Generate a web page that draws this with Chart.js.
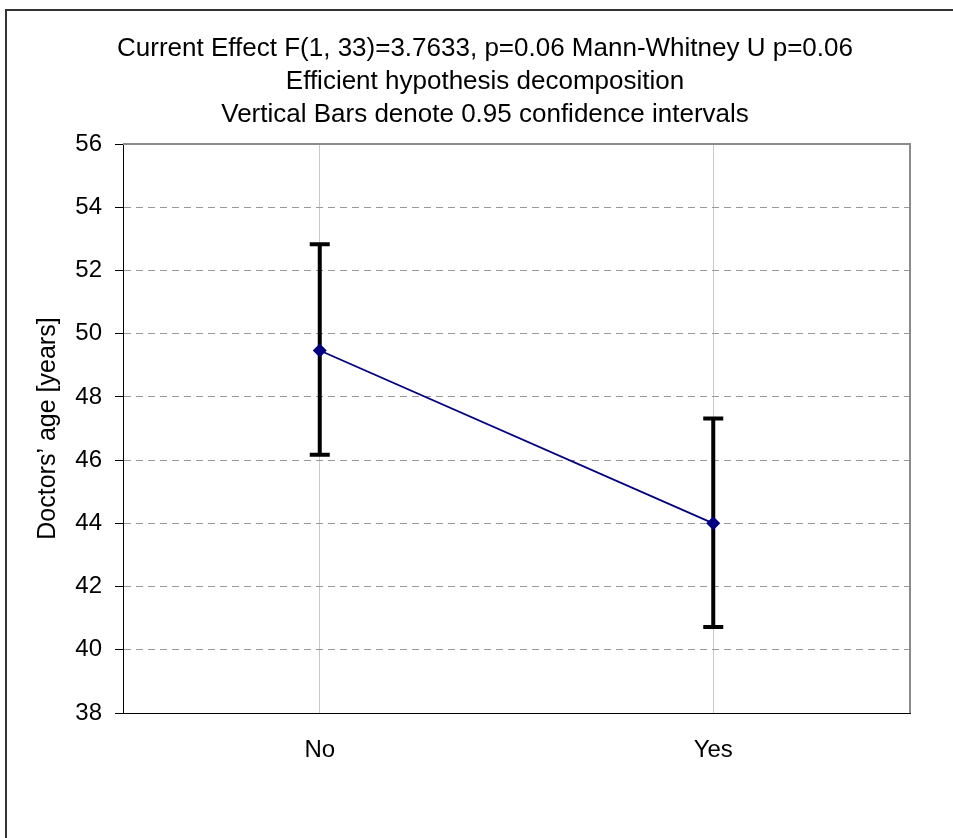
<!DOCTYPE html>
<html>
<head>
<meta charset="utf-8">
<script src="https://cdn.jsdelivr.net/npm/chart.js@4/dist/chart.umd.min.js"></script>
<style>
  html, body { margin: 0; padding: 0; background: #fff; }
  body { width: 953px; height: 838px; position: relative; overflow: hidden; }
  #frame { position: absolute; left: 5px; top: 9px; width: 1000px; height: 900px;
           border-left: 2px solid #333; border-top: 2px solid #333; }
  #c { position: absolute; left: 0; top: 0; }
</style>
</head>
<body>
<div id="frame"></div>
<canvas id="c" width="953" height="838"></canvas>
<script>
// ---- data ----
const categories = ['No', 'Yes'];
const means = [49.47, 44.0];
const ciLower = [46.17, 40.72];
const ciUpper = [52.83, 47.32];
const titleLines = [
  'Current Effect F(1, 33)=3.7633, p=0.06 Mann-Whitney U p=0.06',
  'Efficient hypothesis decomposition',
  'Vertical Bars denote 0.95 confidence intervals'
];
const yAxisTitle = 'Doctors\u2019 age [years]';
const yMin = 38, yMax = 56, yStep = 2;

const FONT = "'Liberation Sans', Arial, sans-serif";

const errorBars = {
  id: 'errorBars',
  beforeDatasetsDraw(chart) {
    const {ctx, chartArea: a, scales: {x, y}} = chart;
    // plot frame top & right (gray)
    ctx.save();
    ctx.strokeStyle = '#8c8c8c';
    ctx.lineWidth = 2;
    ctx.beginPath();
    ctx.moveTo(a.left, a.top);
    ctx.lineTo(a.right, a.top);
    ctx.lineTo(a.right, a.bottom);
    ctx.stroke();
    // error bars
    ctx.strokeStyle = '#000';
    ctx.lineWidth = 4;
    ctx.lineCap = 'butt';
    for (let i = 0; i < categories.length; i++) {
      const px = x.getPixelForValue(i);
      const yl = y.getPixelForValue(ciLower[i]);
      const yu = y.getPixelForValue(ciUpper[i]);
      ctx.beginPath();
      ctx.moveTo(px, yl); ctx.lineTo(px, yu);
      ctx.moveTo(px - 10, yl); ctx.lineTo(px + 10, yl);
      ctx.moveTo(px - 10, yu); ctx.lineTo(px + 10, yu);
      ctx.stroke();
    }
    ctx.restore();
  }
};

new Chart(document.getElementById('c'), {
  type: 'line',
  data: {
    labels: categories,
    datasets: [{
      data: means,
      borderColor: '#000080',
      backgroundColor: '#000080',
      borderWidth: 1.8,
      pointStyle: 'rectRot',
      pointRadius: 7,
      pointBorderWidth: 0,
      tension: 0
    }]
  },
  options: {
    responsive: false,
    animation: false,
    layout: { padding: { left: 60, right: 43, top: 0, bottom: 0 } },
    plugins: {
      legend: { display: false },
      tooltip: { enabled: false },
      title: {
        display: true,
        text: titleLines,
        color: '#000',
        font: { family: FONT, size: 26, weight: 'normal', lineHeight: 1.27 },
        padding: { top: 32, bottom: 13 }
      }
    },
    scales: {
      x: {
        type: 'category',
        offset: true,
        grid: { offset: false, color: '#c8c8c8', lineWidth: 1, drawTicks: false },
        border: { display: true, color: '#000', width: 1 },
        ticks: { color: '#000', font: { family: FONT, size: 24 }, padding: 23 },
        afterFit(s) { s.height = 125; }
      },
      y: {
        min: yMin, max: yMax,
        grid: { color: '#999', lineWidth: 1, tickColor: '#000', tickLength: 8, tickBorderDash: [] },
        border: { display: true, color: '#000', width: 1, dash: [7, 5] },
        ticks: { stepSize: yStep, color: '#000', font: { family: FONT, size: 24 }, padding: 13 },
        title: { display: true, text: yAxisTitle, color: '#000',
                 font: { family: FONT, size: 25 }, padding: { top: -27, bottom: 0 } },
        afterFit(s) { s.width = 63; }
      }
    }
  },
  plugins: [errorBars]
});
</script>
</body>
</html>
